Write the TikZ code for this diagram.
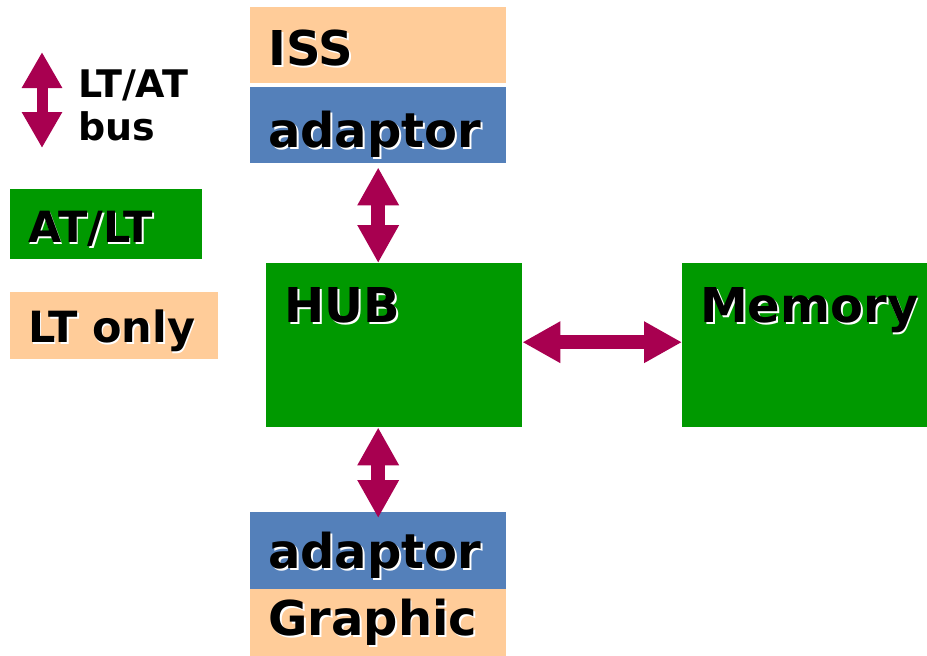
\documentclass[tikz,border=0pt]{standalone}
\usepackage{fontspec}
\setmainfont{DejaVu Sans}
\usetikzlibrary{positioning, arrows.meta}
\usepackage{xcolor}

\definecolor{peach}{RGB}{255,204,153}
\definecolor{adblue}{RGB}{84,128,186}
\definecolor{hubgreen}{RGB}{0,153,0}
\definecolor{busred}{RGB}{168,0,80}

% text with a white drop shadow
\newcommand\shd[1]{\leavevmode\rlap{\kern1.8pt\raisebox{-1.8pt}{\color{white}#1}}#1}

\begin{document}
\begin{tikzpicture}[x=1pt, y=-1pt,
    box/.style={anchor=north west, inner ysep=0pt, inner xsep=18pt, align=left,
        font=\fontsize{48}{52}\selectfont\bfseries},
    small/.style={font=\fontsize{43}{46}\selectfont\bfseries},
    bus/.style={busred, line width=14pt, {Triangle[width=39pt,length=38pt]}-{Triangle[width=39pt,length=38pt]}}]
    \useasboundingbox (0,0) rectangle (927,656);

    % ISS with its adaptor
    \node[box, fill=peach, text width=220pt, text height=58pt, text depth=18pt] (iss) at (250,7) {\shd{ISS}};
    \node[box, fill=adblue, text width=220pt, text height=60pt, text depth=16pt] (issad) at (250,87) {\shd{adaptor}};

    % HUB and Memory
    \node[box, fill=hubgreen, text width=220pt, text height=59pt, text depth=105pt] (hub) at (266,263) {\shd{HUB}};
    \node[box, fill=hubgreen, text width=209pt, text height=59pt, text depth=105pt] (mem) at (682,263) {\shd{Memory}};

    % Graphic with its adaptor
    \node[box, fill=adblue, text width=220pt, text height=56pt, text depth=21pt] (gad) at (250,512) {\shd{adaptor}};
    \node[box, fill=peach, text width=220pt, text height=46pt, text depth=21pt] (gra) at (250,589) {\shd{Graphic}};

    % buses
    \draw[bus, shorten <=4pt] (issad.south) -- (issad.south |- hub.north);
    \draw[bus, shorten >=-6pt] (gad.north |- hub.south) -- (gad.north);
    \draw[bus] ([yshift=3pt]hub.east) -- ([yshift=3pt]mem.west);

    % legend
    \coordinate (legtop) at (42,52);
    \coordinate (legbot) at (42,148);
    \draw[busred, line width=11pt, {Triangle[width=38pt,length=36pt]}-{Triangle[width=38pt,length=36pt]}] (legtop) -- (legbot);
    \node[anchor=base west, align=left, inner sep=0pt, font=\fontsize{38}{43}\selectfont\bfseries] (legtxt) at (78,140) {\shd{LT/AT}\\\shd{bus}};
    \node[box, small, fill=hubgreen, text width=156pt, text height=53pt, text depth=17pt] (atlt) at (10,189) {\shd{AT/LT}};
    \node[box, small, fill=peach, text width=172pt, text height=50pt, text depth=17pt] (ltonly) at (10,292) {\shd{LT only}};
\end{tikzpicture}
\end{document}
